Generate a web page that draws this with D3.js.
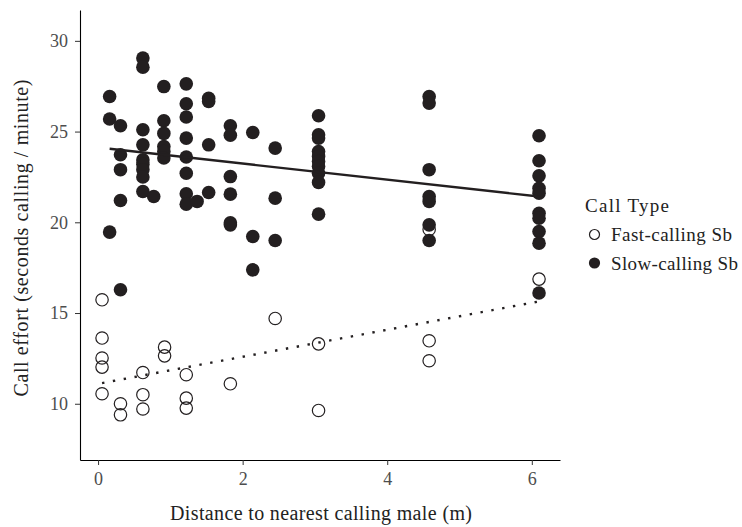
<!DOCTYPE html>
<html>
<head>
<meta charset="utf-8">
<script src="https://cdn.jsdelivr.net/npm/d3@7"></script>
<style>
  body { margin: 0; background: #fff; }
</style>
</head>
<body>
<div id="chart"></div>
<script>
// slow-calling (filled) points: distance (m), call effort
const slowX = [
  0.16, 0.16, 0.16,
  0.31, 0.31, 0.31, 0.31, 0.31,
  0.62, 0.62, 0.62, 0.62, 0.62, 0.62, 0.62, 0.62, 0.62,
  0.77,
  0.91, 0.91, 0.91, 0.91, 0.91, 0.91,
  1.22, 1.22, 1.22, 1.22, 1.22, 1.22, 1.22, 1.22,
  1.37,
  1.53, 1.53, 1.53, 1.53,
  1.83, 1.83, 1.83, 1.83, 1.83, 1.83,
  2.14, 2.14, 2.14,
  2.45, 2.45, 2.45,
  3.05, 3.05, 3.05, 3.05, 3.05, 3.05, 3.05, 3.05, 3.05, 3.05,
  4.58, 4.58, 4.58, 4.58, 4.58, 4.58, 4.58,
  6.1, 6.1, 6.1, 6.1, 6.1, 6.1, 6.1, 6.1, 6.1, 6.1
];
const slowY = [
  26.93, 25.69, 19.46,
  25.32, 23.72, 22.9, 21.2, 16.28,
  29.05, 28.55, 25.1, 24.27, 23.44, 23.2, 22.9, 22.5, 21.7,
  21.42,
  27.48, 25.6, 24.9, 24.18, 23.9, 23.54,
  27.63, 26.53, 25.8, 24.64, 23.6, 22.7, 21.57, 21.0,
  21.15,
  26.84, 26.66, 24.27, 21.64,
  25.32, 24.8, 22.52, 21.55, 19.86, 19.97,
  24.95, 19.22, 17.38,
  24.09, 21.33, 19.0,
  25.87, 24.82, 24.64, 23.9, 23.63, 23.35, 23.07, 22.7, 22.2, 20.45,
  26.93, 26.57, 22.9, 21.42, 21.15, 19.86, 19.0,
  24.77, 23.39, 22.56, 21.88, 21.6, 20.5, 20.23, 19.49, 18.85, 16.1
];

// fast-calling (open) points
const fastX = [
  0.055, 0.055, 0.055, 0.055, 0.055,
  0.31, 0.31,
  0.62, 0.62, 0.62,
  0.92, 0.92,
  1.22, 1.22, 1.22,
  1.83,
  2.45,
  3.05, 3.05,
  4.58, 4.58, 4.58,
  6.1
];
const fastY = [
  15.73, 13.62, 12.52, 12.02, 10.55,
  10.0, 9.39,
  11.72, 10.5, 9.71,
  13.12, 12.64,
  11.6, 10.31, 9.76,
  11.1,
  14.7,
  13.3, 9.63,
  13.47, 12.37, 19.6,
  16.87
];

// fitted trend lines (endpoints)
const slowFitX = [0.16, 6.1];
const slowFitY = [24.05, 21.42];
const fastFitX = [0.055, 6.1];
const fastFitY = [11.14, 15.64];

const xTicks = [0, 2, 4, 6];
const yTicks = [10, 15, 20, 25, 30];
const legendLabels = ["Fast-calling Sb", "Slow-calling Sb"];

const serif = "'Liberation Serif', 'DejaVu Serif', 'Times New Roman', serif";
const width = 742, height = 527;
const margin = { top: 10, right: 182, bottom: 67, left: 80 };

const svg = d3.select("#chart").append("svg")
  .attr("width", width)
  .attr("height", height)
  .attr("font-family", serif);

const x = d3.scaleLinear()
  .domain([-0.25, 6.39])
  .range([margin.left, width - margin.right]);

const y = d3.scaleLinear()
  .domain([6.9, 31.7])
  .range([height - margin.bottom, margin.top]);

// axes
const xAxis = svg.append("g")
  .attr("transform", `translate(0,${height - margin.bottom})`)
  .call(d3.axisBottom(x).tickValues(xTicks).tickFormat(d3.format("d"))
    .tickSizeInner(5).tickSizeOuter(0).tickPadding(7));

const yAxis = svg.append("g")
  .attr("transform", `translate(${margin.left},0)`)
  .call(d3.axisLeft(y).tickValues(yTicks).tickFormat(d3.format("d"))
    .tickSizeInner(5).tickSizeOuter(0).tickPadding(7));

[xAxis, yAxis].forEach(g => {
  g.attr("font-family", serif);
  g.select(".domain").attr("stroke", "#000").attr("stroke-width", 1.1);
  g.selectAll(".tick line").attr("stroke", "#333");
  g.selectAll(".tick text")
    .attr("fill", "#4d4d4d")
    .attr("font-family", serif)
    .attr("font-size", 18);
});

// axis titles
svg.append("text")
  .attr("x", 321)
  .attr("y", 520)
  .attr("text-anchor", "middle")
  .attr("fill", "#222")
  .attr("textLength", 302)
  .attr("lengthAdjust", "spacing")
  .attr("font-size", 20)
  .text("Distance to nearest calling male (m)");

svg.append("text")
  .attr("transform", "translate(28,238) rotate(-90)")
  .attr("text-anchor", "middle")
  .attr("fill", "#222")
  .attr("textLength", 317)
  .attr("lengthAdjust", "spacing")
  .attr("font-size", 20)
  .text("Call effort (seconds calling / minute)");

// points
const slow = slowX.map((d, i) => ({ x: d, y: slowY[i] }));
const fast = fastX.map((d, i) => ({ x: d, y: fastY[i] }));

svg.append("g").selectAll("circle")
  .data(fast)
  .join("circle")
  .attr("cx", d => x(d.x))
  .attr("cy", d => y(d.y))
  .attr("r", 6.2)
  .attr("fill", "none")
  .attr("stroke", "#231f20")
  .attr("stroke-width", 1.2);

svg.append("g").selectAll("circle")
  .data(slow)
  .join("circle")
  .attr("cx", d => x(d.x))
  .attr("cy", d => y(d.y))
  .attr("r", 6.8)
  .attr("fill", "#231f20");

// trend lines
const line = d3.line().x(d => x(d[0])).y(d => y(d[1]));

svg.append("path")
  .datum(slowFitX.map((d, i) => [d, slowFitY[i]]))
  .attr("fill", "none")
  .attr("stroke", "#231f20")
  .attr("stroke-width", 2.4)
  .attr("d", line);

svg.append("path")
  .datum(fastFitX.map((d, i) => [d, fastFitY[i]]))
  .attr("fill", "none")
  .attr("stroke", "#231f20")
  .attr("stroke-width", 2.4)
  .attr("stroke-dasharray", "2.4,8.6")
  .attr("d", line);

// legend
const legend = svg.append("g").attr("transform", "translate(585,0)");

legend.append("text")
  .attr("x", 0)
  .attr("y", 212)
  .attr("fill", "#222")
  .attr("textLength", 84)
  .attr("lengthAdjust", "spacing")
  .attr("font-size", 19)
  .text("Call Type");

const legendWidths = [121, 127];
legendLabels.forEach((lab, i) => {
  const cy = 234.5 + i * 28.5;
  legend.append("circle")
    .attr("cx", 9.5)
    .attr("cy", cy)
    .attr("r", i === 0 ? 5 : 5.6)
    .attr("fill", i === 0 ? "none" : "#231f20")
    .attr("stroke", "#231f20")
    .attr("stroke-width", i === 0 ? 1.2 : 0);
  legend.append("text")
    .attr("x", 26)
    .attr("y", cy + 6.5)
    .attr("fill", "#222")
    .attr("textLength", legendWidths[i])
    .attr("lengthAdjust", "spacing")
    .attr("font-size", 19)
    .text(lab);
});
</script>
</body>
</html>
